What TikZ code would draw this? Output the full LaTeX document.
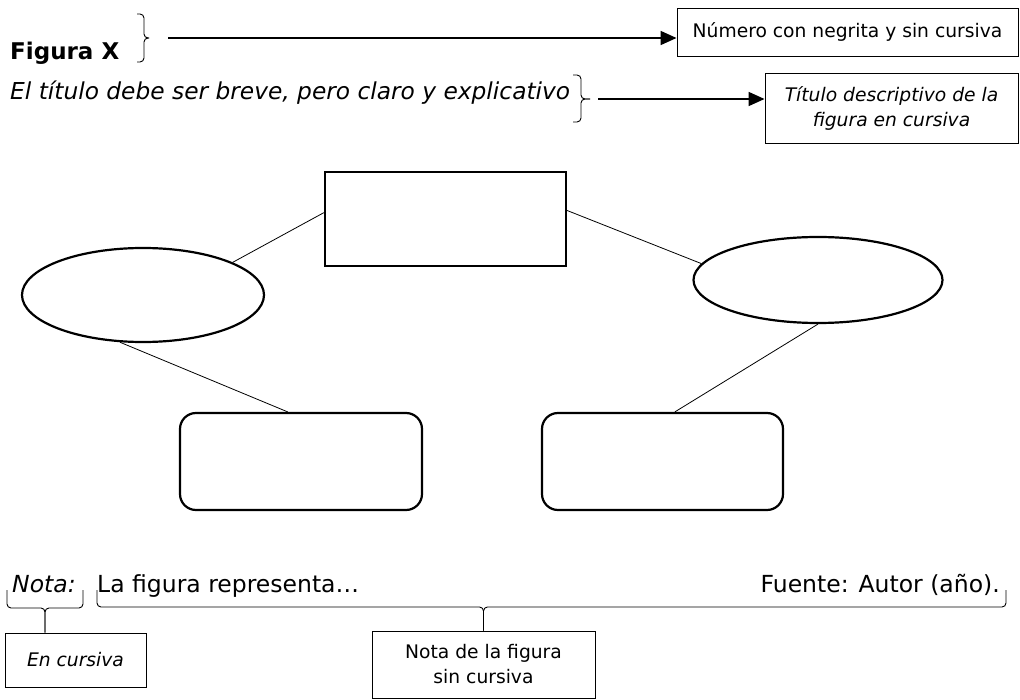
\documentclass[tikz,border=0pt]{standalone}
\usepackage{fontspec}
\setmainfont{DejaVu Sans}
\usetikzlibrary{arrows.meta,shapes.geometric}
\begin{document}
\begin{tikzpicture}[x=1pt,y=-1pt,
    caja/.style={draw,line width=0.9pt,inner sep=0pt,align=center,font=\fontsize{18.7}{25}\selectfont},
    figura/.style={draw,line width=2.2pt,inner sep=0pt},
    linea/.style={line width=0.8pt},
    flecha/.style={line width=1.7pt,-{Triangle[length=16pt,width=14pt]}},
    llave/.style={line width=0.9pt,rounded corners=4pt},
    texto/.style={inner sep=0pt,anchor=base west}]
  \useasboundingbox (0,0) rectangle (1020,700);
  \node[texto,font=\fontsize{23}{28}\selectfont\bfseries] (fig) at (10,60) {Figura X};
  \node[texto,font=\fontsize{23.3}{28}\selectfont\itshape] (tit) at (10,100) {El título debe ser breve, pero claro y explicativo};
  \node[caja,minimum width=341pt,minimum height=48pt] (numero) at (847.5,32) {Número con negrita y sin cursiva};
  \node[caja,minimum width=253pt,minimum height=70pt,font=\fontsize{18.7}{25}\selectfont\itshape] (descr) at (891.5,108) {Título descriptivo de la\\figura en cursiva};
  \draw[llave] (137,14) -| (144,38) -- (149,38);
  \draw[llave] (137,62) -| (144,38) -- (149,38);
  \coordinate (a1) at (168,38);
  \draw[flecha] (a1) -- (numero.west |- a1);
  \draw[llave] (573,75) -| (581,99) -- (590,99);
  \draw[llave] (573,122) -| (581,99) -- (590,99);
  \coordinate (a2) at (598,99);
  \draw[flecha] (a2) -- (descr.west |- a2);
  \node[figura,minimum width=241pt,minimum height=94pt] (centro) at (445.5,219) {};
  \node[figura,ellipse,minimum width=242pt,minimum height=94pt] (izq) at (143,295) {};
  \node[figura,ellipse,minimum width=249pt,minimum height=86pt] (der) at (818,280) {};
  \node[figura,rounded corners=16pt,minimum width=242pt,minimum height=97pt] (abizq) at (301,461.5) {};
  \node[figura,rounded corners=16pt,minimum width=241pt,minimum height=97pt] (abder) at (662.5,461.5) {};
  \draw[linea] (centro.177) -- (izq.20);
  \draw[linea] (centro.4) -- (der.172);
  \draw[linea] (izq.244) -- (abizq.105);
  \draw[linea] (der.south) -- (abder.76);
  \node[texto,font=\fontsize{23.5}{28}\selectfont\itshape] (nota) at (12,592) {Nota:};
  \node[texto,font=\fontsize{23.5}{28}\selectfont] (repr) at (97,592) {La figura representa…};
  \node[texto,anchor=base east,font=\fontsize{23.5}{28}\selectfont] (fuente) at (1000,592) {Fuente: Autor (año).};
  \node[caja,minimum width=141pt,minimum height=54pt,font=\fontsize{18.7}{25}\selectfont\itshape] (encur) at (75.5,660) {En cursiva};
  \node[caja,minimum width=223pt,minimum height=67pt] (notafig) at (483.5,664.5) {Nota de la figura\\sin cursiva};
  \coordinate (p1) at (45,608);
  \draw[llave] (7,590) |- (p1) -- (encur.north -| p1);
  \draw[llave] (83,590) |- (p1) -- (encur.north -| p1);
  \coordinate (p2) at (483.5,607);
  \draw[llave] (97,590) |- (p2) -- (notafig.north);
  \draw[llave] (1006,590) |- (p2) -- (notafig.north);
\end{tikzpicture}
\end{document}
